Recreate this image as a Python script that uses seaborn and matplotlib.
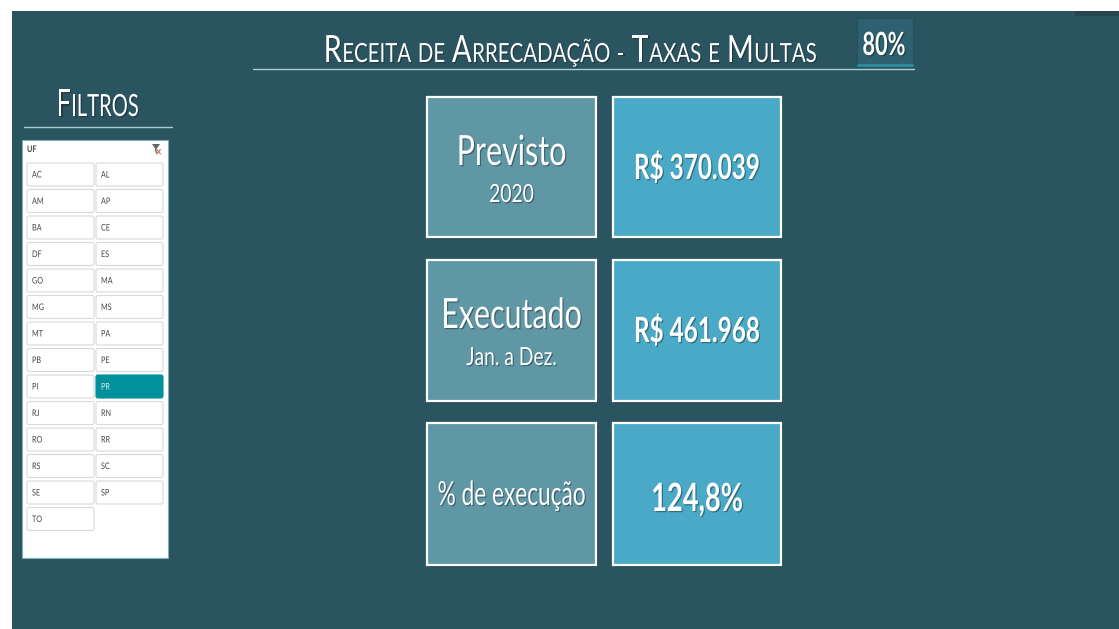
import matplotlib
matplotlib.use('Agg')
import matplotlib.pyplot as plt
import matplotlib.patheffects as pe
from matplotlib.patches import Rectangle, FancyBboxPatch
from matplotlib.transforms import Affine2D, Bbox
import seaborn as sns

W, H = 1119, 629
BG = '#2b5461'

title_words = ['Receita', 'de', 'Arrecadação', '-', 'Taxas', 'e', 'Multas']
goal_label = '80%'
filter_title = 'Filtros'
slicer_name = 'UF'
states = ['AC', 'AL', 'AM', 'AP', 'BA', 'CE', 'DF', 'ES', 'GO', 'MA', 'MG', 'MS', 'MT', 'PA',
          'PB', 'PE', 'PI', 'PR', 'RJ', 'RN', 'RO', 'RR', 'RS', 'SC', 'SE', 'SP', 'TO']
selected = 'PR'
card_titles = ['Previsto', 'Executado', '% de execução']
card_subtitles = ['2020', 'Jan. a Dez.', '']
card_values = ['R$ 370.039', 'R$ 461.968', '124,8%']

sns.set_theme(style='white')
plt.rcParams['font.family'] = ['Lato', 'DejaVu Sans']

fig = plt.figure(figsize=(W / 100, H / 100), dpi=100, facecolor='white')
ax = fig.add_axes([0, 0, 1, 1])
ax.set_xlim(0, W)
ax.set_ylim(H, 0)
ax.axis('off')
renderer = fig.canvas.get_renderer()


# squeezes glyphs sideways, the reference font is much narrower than Lato
class Squeeze(pe.AbstractPathEffect):
    def __init__(self, sx, shade=0.35):
        super().__init__()
        self.sx = sx
        self.shade = shade

    def draw_path(self, renderer, gc, tpath, affine, rgbFace=None):
        a = Affine2D().scale(self.sx, 1) + affine
        if self.shade:
            gc0 = renderer.new_gc()
            gc0.copy_properties(gc)
            gc0.set_alpha(self.shade)
            gc0.set_linewidth(0)
            renderer.draw_path(gc0, tpath, a + Affine2D().translate(1.2, -1.2), (0, 0, 0))
            gc0.restore()
        renderer.draw_path(gc, tpath, a, rgbFace)


def squeezed_text(x, y, s, size, sx, color='white', weight='normal', shade=0.35):
    t = ax.text(x, y, s, fontsize=size, color=color, fontweight=weight, ha='left', va='baseline',
                path_effects=[Squeeze(sx, shade)])
    # keep the reported extent in line with what is really drawn
    full_extent = t.get_window_extent

    def narrow_extent(renderer=None, dpi=None):
        b = full_extent(renderer, dpi)
        return Bbox.from_extents(b.x0, b.y0, b.x0 + b.width * sx, b.y1)

    t.get_window_extent = narrow_extent
    return t


def put_text(x, y, s, size, sx, ha='center', color='white', weight='normal', shade=0.35):
    t = squeezed_text(x, y, s, size, sx, color, weight, shade)
    wd = t.get_window_extent(renderer).width
    if ha == 'center':
        t.set_x(x - wd / 2)
    return wd


def small_caps(words, x_right, y, big, small, sx):
    # first letter of a capitalised word is bigger, placed from measured widths
    pieces = []
    for i, w in enumerate(words):
        if i > 0:
            pieces.append((None, small))
        if w[0].isupper():
            pieces.append((w[0], big))
            pieces.append((w[1:].upper(), small))
        else:
            pieces.append((w.upper(), small))
    items = []
    total = 0
    for s, size in pieces:
        if s is None:
            items.append((None, size * 0.34))
            total += size * 0.34
            continue
        t = squeezed_text(0, y, s, size, sx, shade=0.3)
        wd = t.get_window_extent(renderer).width
        items.append((t, wd))
        total += wd + 0.5
    x = x_right - total
    for t, wd in items:
        if t is not None:
            t.set_x(x)
            x += wd + 0.5
        else:
            x += wd


ax.add_patch(Rectangle((12, 11), W - 12, H - 11, fc=BG, ec='none'))
ax.add_patch(Rectangle((1075, 11), 44, 5, fc='#264752', ec='none'))

# title
small_caps(title_words, 817, 62, 27, 19, 0.775)
ax.plot([253, 914], [69, 69], color='#a6d0d3', lw=1)

# goal box
ax.add_patch(Rectangle((857, 18), 56, 48, fc='#2e6170', ec='#28505c', lw=0.8))
ax.plot([858, 912], [64.5, 64.5], color='#2b8fa0', lw=2)
put_text(884, 55, goal_label, 23, 0.68, weight='bold')

# filter side
small_caps([filter_title], 139, 116, 27, 22, 0.66)
ax.plot([24, 172], [127, 127], color='#a6d0d3', lw=1)

ax.add_patch(Rectangle((22, 140), 146, 418, fc='white', ec='#7fb0b5', lw=0.8))
put_text(27, 152, slicer_name, 6.5, 0.8, ha='left', color='#444444', weight='bold', shade=0)
# clear filter icon
ax.fill([152, 160, 156.5, 155.5], [144, 144, 149, 149], color='#666666', lw=0)
ax.plot([155.5, 156.5], [149, 153], color='#666666', lw=1)
ax.plot([157, 160.5], [149.5, 154], color='#d9705f', lw=0.8)
ax.plot([160.5, 157], [149.5, 154], color='#d9705f', lw=0.8)

for i, st in enumerate(states):
    col = i % 2
    row = i // 2
    x0 = 27 + col * 69
    y0 = 163 + row * 26.5
    on = st == selected
    ax.add_patch(FancyBboxPatch((x0 + 1.5, y0 + 1.5), 64, 20, boxstyle='round,pad=1.5,rounding_size=2',
                                fc='#00919b' if on else 'white', ec='#00919b' if on else '#d9d9d9', lw=0.8))
    put_text(x0 + 5, y0 + 14.5, st, 6.5, 0.8, ha='left', color='#dff2f2' if on else '#444444', shade=0)

# cards
card_rows = [97, 260, 423]
card_h = [140, 141, 142]
for i in range(3):
    y0 = card_rows[i]
    h = card_h[i]
    for x0, w0, c in [(427, 169, '#5f97a5'), (613, 168, '#4aa9c6')]:
        ax.add_patch(Rectangle((x0 + 1.5, y0 + 1.5), w0, h, fc='#1c3a44', ec='none', alpha=0.5))
        ax.add_patch(Rectangle((x0, y0), w0, h, fc=c, ec='white', lw=1.6))
    if card_subtitles[i]:
        put_text(511.5, y0 + 68, card_titles[i], 30, 0.73)
        put_text(511.5, y0 + 105, card_subtitles[i], 18, 0.77)
    else:
        put_text(511.5, y0 + 82, card_titles[i], 24, 0.68)
    put_text(697, y0 + (82 if i < 2 else 88), card_values[i], 25 if i < 2 else 28, 0.7, weight='bold')

fig.savefig('out.png', dpi=100, facecolor='white')
